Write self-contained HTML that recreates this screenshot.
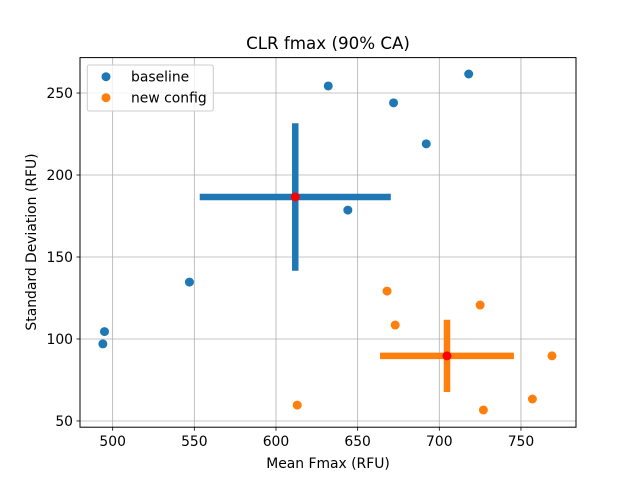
<!DOCTYPE html>
<html><head><meta charset="utf-8"><style>
body{margin:0;background:#fff}
text{font-family:"DejaVu Sans","Liberation Sans",sans-serif}
</style></head><body>
<svg id="chart" width="640" height="480" xmlns="http://www.w3.org/2000/svg">
<rect width="640" height="480" fill="#fff"/>
<g id="grid"></g>
<g id="marks"></g>
<rect x="80" y="57.6" width="496" height="369.6" fill="none" stroke="#000" stroke-width="1"/>
<g id="ticks"></g>
<text x="328" y="49" font-size="16.7" text-anchor="middle">CLR fmax (90% CA)</text>
<text x="328" y="468" font-size="13.9" text-anchor="middle">Mean Fmax (RFU)</text>
<text transform="translate(36,242) rotate(-90)" font-size="13.9" text-anchor="middle">Standard Deviation (RFU)</text>
<g>
<rect x="87.3" y="65" width="126" height="46" rx="2" fill="#fff" fill-opacity="0.8" stroke="#ccc"/>
<circle cx="106" cy="76.7" r="4.5" fill="#1f77b4"/>
<text x="131" y="81.5" font-size="13.9">baseline</text>
<circle cx="106" cy="97.7" r="4.5" fill="#ff7f0e"/>
<text x="131" y="102.5" font-size="13.9">new config</text>
</g>
</svg>
<script>
const xTicks=[500,550,600,650,700,750];
const yTicks=[50,100,150,200,250];
const baselineX=[495,494,547,632,672,692,718,644];
const baselineY=[104.5,97,134.7,254.3,244,219,261.6,178.6];
const newX=[613,668,673,725,769,757,727];
const newY=[59.7,129.2,108.5,120.7,89.7,63.4,56.7];
const meanX=[611.8,704.7];
const meanY=[186.6,89.7];
const errX=[58.5,41];
const errY=[45,22];
const colors=['#1f77b4','#ff7f0e'];
const X0=480,X1=783.7,Y0=46.2,Y1=271.6;
const L=80,R=576,T=57.6,B=427.2;
const sx=v=>L+(v-X0)/(X1-X0)*(R-L);
const sy=v=>B-(v-Y0)/(Y1-Y0)*(B-T);
const NS='http://www.w3.org/2000/svg';
function mk(tag,attrs,parent){const e=document.createElementNS(NS,tag);for(const k in attrs)e.setAttribute(k,attrs[k]);parent.appendChild(e);return e;}
const grid=document.getElementById('grid'),ticks=document.getElementById('ticks'),marks=document.getElementById('marks');
xTicks.forEach(v=>{const x=sx(v);
 let g=mk('line',{x1:x,x2:x,y1:T,y2:B,stroke:'#b0b0b0','stroke-width':0.8},grid);
 
 
 let t=mk('line',{x1:x,x2:x,y1:B,y2:B+3.5,stroke:'#000','stroke-width':0.8},ticks);
 
 
 let l=mk('text',{x:x,y:B+19,'font-size':13.9,'text-anchor':'middle'},ticks);l.textContent=v;
 
 
});
yTicks.forEach(v=>{const y=sy(v);
 let g=mk('line',{x1:L,x2:R,y1:y,y2:y,stroke:'#b0b0b0','stroke-width':0.8},grid);
 
 
 let t=mk('line',{x1:L-3.5,x2:L,y1:y,y2:y,stroke:'#000','stroke-width':0.8},ticks);
 
 
 let l=mk('text',{x:L-7,y:y+5,'font-size':13.9,'text-anchor':'end'},ticks);l.textContent=v;
 
 
});
[[baselineX,baselineY,'baseline-point'],[newX,newY,'new-config-point']].forEach((s,si)=>{
 s[0].forEach((v,i)=>{let c=mk('circle',{cx:sx(v),cy:sy(s[1][i]),r:4.5,fill:colors[si]},marks);
  
  });
});
meanX.forEach((mx,i)=>{const my=meanY[i];
 let h=mk('line',{x1:sx(mx-errX[i]),x2:sx(mx+errX[i]),y1:sy(my),y2:sy(my),stroke:colors[i],'stroke-width':6.5},marks);
 
 
 let v=mk('line',{x1:sx(mx),x2:sx(mx),y1:sy(my-errY[i]),y2:sy(my+errY[i]),stroke:colors[i],'stroke-width':6.5},marks);
 
 
 let c=mk('circle',{cx:sx(mx),cy:sy(my),r:4.5,fill:'#ff0000'},marks);
 
 
});
</script>
</body></html>
